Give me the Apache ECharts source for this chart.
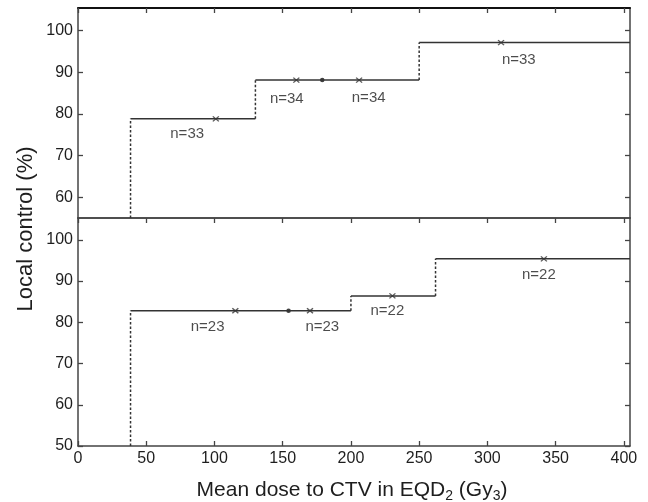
<!DOCTYPE html>
<html><head><meta charset="utf-8">
<script src="https://cdn.jsdelivr.net/npm/echarts@6/dist/echarts.min.js"></script>
<style>html,body{margin:0;padding:0;background:#fff}#c{width:648px;height:502px}</style>
</head><body><div id="c"></div>
<script>
// ---- data ----
var xTicks = [0, 50, 100, 150, 200, 250, 300, 350, 400];
var topYTicks = [60, 70, 80, 90, 100];
var botYTicks = [50, 60, 70, 80, 90, 100];

// top panel
var topEdges = [38.5, 130, 250];
var topLevels = [78.8, 88.1, 97.1];
var topCrossX = [101, 160, 206, 310];
var topCrossY = [78.8, 88.1, 88.1, 97.1];
var topDot = [179, 88.1];
var topN = [33, 34, 34, 33];
var topNX = [80, 153, 213, 323];
var topNY = [75.3, 83.6, 83.8, 92.9];

// bottom panel
var botEdges = [38.5, 200, 262];
var botLevels = [82.8, 86.4, 95.4];
var botCrossX = [115.3, 170, 230.4, 341.4];
var botCrossY = [82.8, 82.8, 86.4, 95.4];
var botDot = [154.3, 82.8];
var botN = [23, 23, 22, 22];
var botNX = [95, 179, 226.7, 337.7];
var botNY = [78.8, 78.8, 82.8, 91.6];

var X_MAX = 404.5;
var TOP_MIN = 55, TOP_MAX = 105.4;
var BOT_MIN = 50, BOT_MAX = 105.3;

var lineColor = '#333';
var textColor = '#1e1e1e';
var font = 'Liberation Sans, Arial, sans-serif';

function stepSeries(edges, levels, yMin, xi, yi) {
  var s = [];
  for (var i = 0; i < edges.length; i++) {
    var x0 = edges[i];
    var x1 = i + 1 < edges.length ? edges[i + 1] : X_MAX;
    var yPrev = i === 0 ? yMin : levels[i - 1];
    s.push({type: 'line', xAxisIndex: xi, yAxisIndex: yi, symbol: 'none', animation: false,
      data: [[x0, yPrev], [x0, levels[i]]],
      lineStyle: {color: lineColor, width: 1.5, type: [2.5, 2]}});
    s.push({type: 'line', xAxisIndex: xi, yAxisIndex: yi, symbol: 'none', animation: false,
      data: [[x0, levels[i]], [x1, levels[i]]],
      lineStyle: {color: lineColor, width: 1.5}});
  }
  return s;
}
function markerSeries(cx, cy, dot, ns, nx, ny, xi, yi) {
  var s = [];
  s.push({type: 'scatter', xAxisIndex: xi, yAxisIndex: yi, animation: false,
    symbol: 'path://M0 0 L10 8 M10 0 L0 8', symbolSize: [6, 5],
    itemStyle: {color: 'transparent', borderColor: lineColor, borderWidth: 1.3},
    data: cx.map(function (x, i) { return [x, cy[i]]; })});
  s.push({type: 'scatter', xAxisIndex: xi, yAxisIndex: yi, animation: false,
    symbol: 'circle', symbolSize: 4.5, itemStyle: {color: '#111'},
    data: [dot]});
  s.push({type: 'scatter', xAxisIndex: xi, yAxisIndex: yi, animation: false,
    symbolSize: 0, silent: true,
    label: {show: true, position: 'inside', color: textColor, fontSize: 15, fontFamily: font,
      formatter: function (p) { return 'n=' + p.data[2]; }},
    data: nx.map(function (x, i) { return [x, ny[i], ns[i]]; })});
  return s;
}

function xAx(grid, pos, opts) {
  return Object.assign({
    type: 'value', gridIndex: grid, position: pos, min: 0, max: X_MAX,
    splitLine: {show: false},
    axisLine: {show: true, onZero: false, lineStyle: {color: '#444', width: 1.5}},
    axisTick: {show: true, inside: true, length: 5, lineStyle: {color: '#444', width: 1.3}, customValues: xTicks},
    axisLabel: {show: false, customValues: xTicks}
  }, opts || {});
}
function yAx(grid, pos, min, max, ticks, showLabel) {
  return {
    type: 'value', gridIndex: grid, position: pos, min: min, max: max,
    splitLine: {show: false},
    axisLine: {show: true, onZero: false, lineStyle: {color: '#444', width: 1.5}},
    axisTick: {show: true, inside: true, length: 5, lineStyle: {color: '#444', width: 1.3}, customValues: ticks},
    axisLabel: {show: showLabel, customValues: ticks, color: textColor, fontSize: 16, fontFamily: font, margin: 5}
  };
}

var option = {
  backgroundColor: '#fff',
  animation: false,
  grid: [
    {left: 78, top: 8, width: 552, height: 210},
    {left: 78, top: 218, width: 552, height: 228}
  ],
  xAxis: [
    xAx(0, 'bottom', {axisTick: {show: false}}),
    xAx(0, 'top', {axisLine: {show: true, onZero: false, lineStyle: {color: '#111', width: 2}}}),
    xAx(1, 'bottom', {axisLabel: {show: true, customValues: xTicks, color: textColor, fontSize: 16, fontFamily: font, margin: 5}}),
    xAx(1, 'top')
  ],
  yAxis: [
    yAx(0, 'left', TOP_MIN, TOP_MAX, topYTicks, true),
    yAx(0, 'right', TOP_MIN, TOP_MAX, topYTicks, false),
    yAx(1, 'left', BOT_MIN, BOT_MAX, botYTicks, true),
    yAx(1, 'right', BOT_MIN, BOT_MAX, botYTicks, false)
  ],
  graphic: [
    {type: 'text', x: 352, y: 490, silent: true,
      style: {
        text: '{m|Mean dose to CTV in EQD}{s|2}{m| (Gy}{s|3}{m|)}',
        align: 'center', verticalAlign: 'middle',
        rich: {
          m: {fontSize: 21, fontFamily: font, fill: textColor, color: textColor},
          s: {fontSize: 14, fontFamily: font, fill: textColor, color: textColor, padding: [12, 0, 0, 0]}
        }
      }},
    {type: 'text', x: 26, y: 229, rotation: Math.PI / 2, silent: true,
      style: {text: 'Local control (%)', fontSize: 22, fontFamily: font, fill: textColor,
        align: 'center', verticalAlign: 'middle'}}
  ],
  series: [].concat(
    stepSeries(topEdges, topLevels, TOP_MIN, 0, 0),
    markerSeries(topCrossX, topCrossY, topDot, topN, topNX, topNY, 0, 0),
    stepSeries(botEdges, botLevels, BOT_MIN, 2, 2),
    markerSeries(botCrossX, botCrossY, botDot, botN, botNX, botNY, 2, 2)
  )
};
var chart = echarts.init(document.getElementById('c'), null, {renderer: 'canvas'});
chart.setOption(option);
</script></body></html>
